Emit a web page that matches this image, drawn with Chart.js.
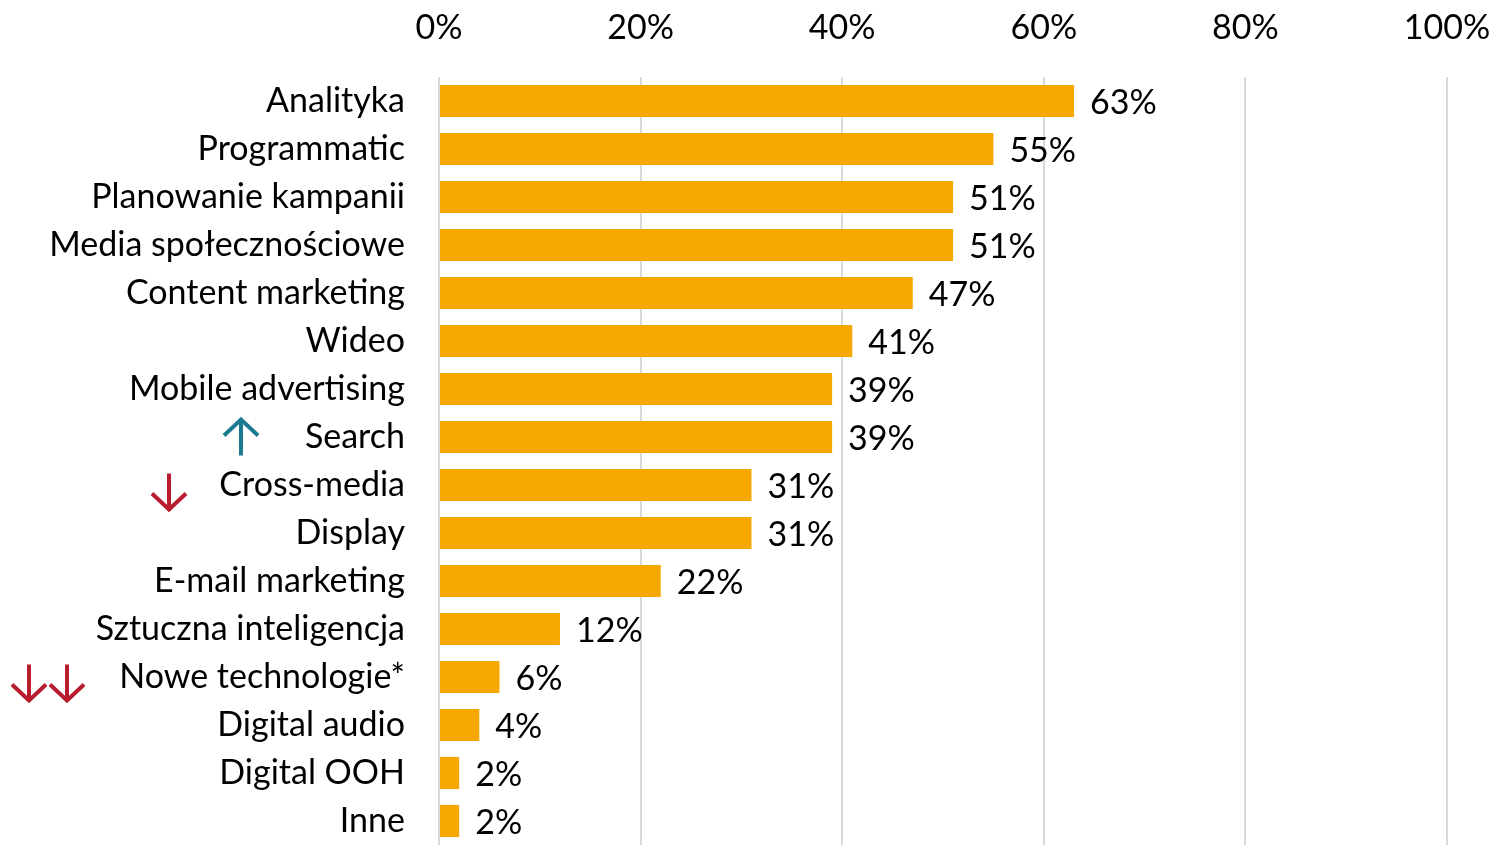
<!DOCTYPE html>
<html><head><meta charset="utf-8">
<script src="https://cdn.jsdelivr.net/npm/chart.js@4"></script>
<style>html,body{margin:0;padding:0;background:#fff;overflow:hidden}canvas{display:block}</style>
</head><body><canvas id="c" width="1491" height="845"></canvas>
<script>
const categories = ['Analityka','Programmatic','Planowanie kampanii','Media społecznościowe','Content marketing','Wideo','Mobile advertising','Search','Cross-media','Display','E-mail marketing','Sztuczna inteligencja','Nowe technologie*','Digital audio','Digital OOH','Inne'];
const values = [63,55,51,51,47,41,39,39,31,31,22,12,6,4,2,2];
const tickValues = [0,20,40,60,80,100];
// trend markers: 'up', 'down', 'down2' or ''
const trends = ['','','','','','','','up','down','','','','down2','','',''];

const FONT = 'Lato, "Open Sans", sans-serif';
const FS = 34;

function drawArrow(ctx, x, yc, dir, color){
  const h = 37, w = 34;
  ctx.save();
  ctx.strokeStyle = color; ctx.lineWidth = 4; ctx.lineCap = 'butt'; ctx.lineJoin='miter';
  ctx.beginPath();
  const top = yc - h/2, bot = yc + h/2;
  ctx.moveTo(x, top); ctx.lineTo(x, bot);
  if (dir === 'up'){
    ctx.moveTo(x - w/2, top + w/2); ctx.lineTo(x, top+1); ctx.lineTo(x + w/2, top + w/2);
  } else {
    ctx.moveTo(x - w/2, bot - w/2); ctx.lineTo(x, bot-1); ctx.lineTo(x + w/2, bot - w/2);
  }
  ctx.stroke();
  ctx.restore();
}

const extras = {
  id: 'extras',
  afterDatasetsDraw(chart){
    const ctx = chart.ctx;
    const meta = chart.getDatasetMeta(0);
    ctx.save();
    ctx.font = FS + 'px ' + FONT;
    ctx.fillStyle = '#000';
    ctx.textAlign = 'left'; ctx.textBaseline = 'middle';
    meta.data.forEach((bar, i) => {
      ctx.fillText(values[i] + '%', bar.x + 16, bar.y + 2);
    });
    ctx.restore();
    const ys = chart.scales.y;
    trends.forEach((t, i) => {
      if (!t) return;
      const y = ys.getPixelForValue(i);
      if (t === 'up') drawArrow(ctx, 241, y, 'up', '#1B7C91');
      else if (t === 'down') drawArrow(ctx, 169, y + 7, 'down', '#B81C2E');
      else if (t === 'down2') { drawArrow(ctx, 29, y + 6, 'down', '#B81C2E'); drawArrow(ctx, 67, y + 6, 'down', '#B81C2E'); }
    });
  }
};

new Chart(document.getElementById('c'), {
  type: 'bar',
  data: { labels: categories, datasets: [{ data: values, backgroundColor: '#F7A800', borderWidth: 0, categoryPercentage: 1, barPercentage: 0.67 }] },
  options: {
    indexAxis: 'y', responsive: false, animation: false, devicePixelRatio: 1,
    layout: { padding: { top: 0, right: 44, bottom: -3, left: 0 } },
    plugins: { legend: { display: false }, tooltip: { enabled: false } },
    scales: {
      x: {
        position: 'top', min: 0, max: 100,
        afterBuildTicks(axis){ axis.ticks = tickValues.map(v => ({ value: v })); },
        afterFit(axis){ axis.height = 77; axis.paddingLeft = 0; axis.paddingRight = 0; },
        ticks: { callback: v => v + '%', color: '#000', font: { family: FONT, size: FS }, padding: 29, maxRotation: 0 },
        grid: { color: '#D9D9D9', lineWidth: 2, drawTicks: false },
        border: { display: false }
      },
      y: {
        afterFit(axis){ axis.width = 439; axis.paddingTop = 0; axis.paddingBottom = 0; },
        ticks: { color: '#000', font: { family: FONT, size: FS }, padding: 34 },
        grid: { display: false, drawTicks: false },
        border: { display: false }
      }
    }
  },
  plugins: [extras]
});
</script></body></html>
